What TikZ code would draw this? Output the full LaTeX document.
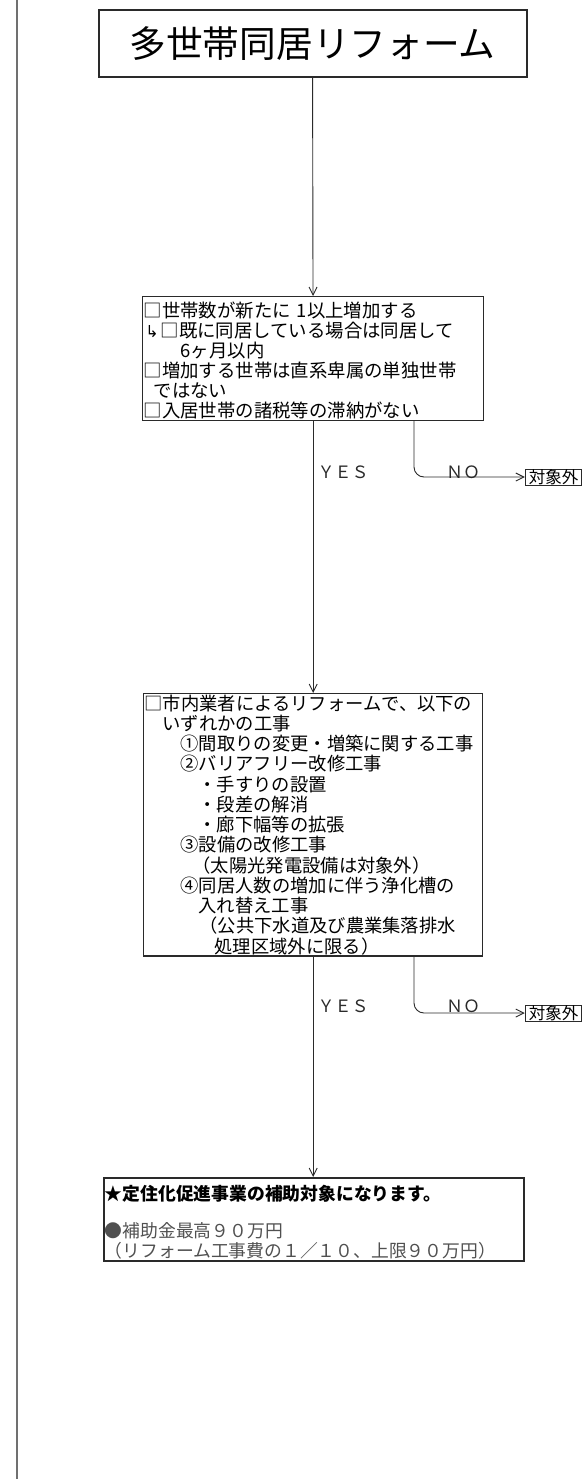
\documentclass[tikz,border=0pt]{standalone}
\usepackage{fontspec}
\setmainfont{Noto Sans CJK JP}
\newfontfamily\arrowfont{DejaVu Sans}
\usetikzlibrary{calc}
\usetikzlibrary{arrows.meta}
\definecolor{lineg}{HTML}{2A2A2A}
\definecolor{txtg}{HTML}{505050}
\definecolor{marg}{HTML}{707070}

\begin{document}
\begin{tikzpicture}[x=1pt,y=-1pt,
        box/.style={rectangle,draw=lineg,line width=1.3pt,inner xsep=1pt,inner ysep=1pt,align=left,anchor=north west},
        outbox/.style={rectangle,draw=lineg,line width=1pt,inner xsep=3.5pt,inner ysep=0pt,minimum height=16pt,font=\fontsize{16.5}{16.5}\selectfont},
        lbl/.style={font=\fontsize{17}{17}\selectfont,text=lineg},
        arr/.style={draw=lineg,line width=0.9pt,-{Straight Barb[length=8pt,width=8pt]}}]
        \useasboundingbox (0,0) rectangle (585,1479);
        \draw[marg,line width=2.4pt] (17,0) -- (17,1479);
        \node[minimum width=428pt, minimum height=67pt, font=\fontsize{36.7}{40}\selectfont] at (312.5,43.5) [rectangle,draw=lineg,line width=2pt] (title) {多世帯同居リフォーム};
        \node[box, text width=339pt, font=\fontsize{18.4}{20}\selectfont] at (142,296) (cond1) {\rule{0pt}{20pt}□世帯数が新たに 1以上増加する\\
        \hspace*{2pt}\resizebox{13pt}{12pt}{\arrowfont ↳}\hspace*{2pt}□既に同居している場合は同居して\\
        \hspace*{37pt}6ヶ月以内\\
        □増加する世帯は直系卑属の単独世帯\\
        \hspace*{10pt}ではない\\
        □入居世帯の諸税等の滞納がない};
        \node[box, text width=337pt, font=\fontsize{18.3}{20.25}\selectfont] at (143,693) (cond2) {□市内業者によるリフォームで、以下の\\
        \hspace*{18pt}いずれかの工事\\
        \hspace*{36pt}①間取りの変更・増築に関する工事\\
        \hspace*{36pt}②バリアフリー改修工事\\
        \hspace*{54pt}・手すりの設置\\
        \hspace*{54pt}・段差の解消\\
        \hspace*{54pt}・廊下幅等の拡張\\
        \hspace*{36pt}③設備の改修工事\\
        \hspace*{48pt}（太陽光発電設備は対象外）\\
        \hspace*{36pt}④同居人数の増加に伴う浄化槽の\\
        \hspace*{54pt}入れ替え工事\\
        \hspace*{55pt}（公共下水道及び農業集落排水\\
        \hspace*{70pt}処理区域外に限る）};
        \node[box, text width=418pt, line width=1.8pt, font=\fontsize{17.8}{20}\selectfont] at (103,1177) (result) {\rule{0pt}{22pt}\textbf{★定住化促進事業の補助対象になります。}\\[17pt]
        {\color{txtg}●補助金最高９０万円}\\
        {\color{txtg}（リフォーム工事費の１／１０、上限９０万円）}};
        \node[outbox] at (553.5,477) (out1) {対象外};
        \node[outbox] at (553.5,1013) (out2) {対象外};
        \node[lbl] at (343,472) (yes1) {ＹＥＳ};
        \node[lbl] at (463,472) (no1) {ＮＯ};
        \node[lbl] at (343,1006) (yes2) {ＹＥＳ};
        \node[lbl] at (463,1006) (no2) {ＮＯ};
        \draw[arr] (title) -- (cond1);
        \draw[arr] (cond1) -- (cond2);
        \draw[arr] (cond2.south) -- (cond2.south |- result.north);
        \draw[arr, rounded corners=10pt] ($(cond1.south west)+(272,0)$) |- (out1);
        \draw[arr, rounded corners=10pt] ($(cond2.south west)+(271,0)$) |- (out2);
    \end{tikzpicture}
\end{document}
